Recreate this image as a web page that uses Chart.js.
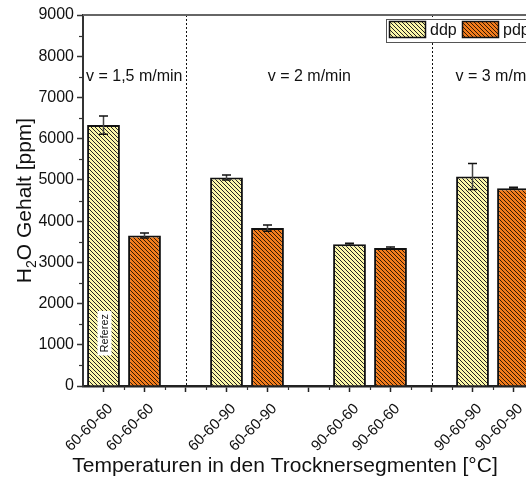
<!DOCTYPE html>
<html>
<head>
<meta charset="utf-8">
<script src="https://cdn.jsdelivr.net/npm/chart.js@4/dist/chart.umd.min.js"></script>
<style>
  html, body { margin: 0; padding: 0; background: #fff; overflow: hidden; width: 526px; height: 477px; }
  #wrap { position: relative; width: 545px; height: 477px; }
</style>
</head>
<body>
<div id="wrap"><canvas id="chart" width="545" height="477"></canvas></div>
<script>
// Drying temperature profiles per segment (empty slots separate the belt speeds)
const categories = ['60-60-60', '60-60-60', '', '60-60-90', '60-60-90', '', '90-60-60', '90-60-60', '', '90-60-90', '90-60-90'];
// Water content [ppm] and standard deviation, ddp series
const ddpValues = [6330, null, null, 5060, null, null, 3440, null, null, 5080, null];
const ddpErrors = [220, null, null, 60, null, null, 25, null, null, 315, null];
// Water content [ppm] and standard deviation, pdp series
const pdpValues = [null, 3650, null, null, 3830, null, null, 3350, null, null, 4800];
const pdpErrors = [null, 60, null, null, 75, null, null, 25, null, null, 20];
// Belt speeds and the category slots where the speed changes
const speedLabels = ['v = 1,5 m/min', 'v = 2 m/min', 'v = 3 m/min'];
const speedBreaks = [2, 8];
const yTicks = [0, 1000, 2000, 3000, 4000, 5000, 6000, 7000, 8000, 9000];
const seriesNames = ['ddp', 'pdp'];
const referenceNote = 'Referez';
const xTitle = 'Temperaturen in den Trocknersegmenten [°C]';

const FONT = '"Liberation Sans", Arial, sans-serif';

function hatch(bg, fg, lw) {
  const c = document.createElement('canvas');
  c.width = 4; c.height = 4;
  const x = c.getContext('2d');
  x.fillStyle = bg; x.fillRect(0, 0, 4, 4);
  x.strokeStyle = fg; x.lineWidth = lw;
  for (const o of [-4, 0, 4]) {
    x.beginPath(); x.moveTo(o, 0); x.lineTo(o + 4, 4); x.stroke();
  }
  return x.createPattern(c, 'repeat');
}
const ddpFill = hatch('#fbf6a8', '#222', 1.0);
const pdpFill = hatch('#f27c1c', '#2a1400', 0.95);

const decorations = {
  id: 'decorations',
  beforeDatasetsDraw(chart) {
    const { ctx, chartArea: a, scales: { x } } = chart;
    ctx.save();
    // speed separators
    ctx.strokeStyle = '#111';
    ctx.lineWidth = 1;
    ctx.setLineDash([2, 2]);
    speedBreaks.forEach(b => {
      const px = Math.round(x.getPixelForValue(b)) + 0.5;
      ctx.beginPath(); ctx.moveTo(px, a.top); ctx.lineTo(px, a.bottom); ctx.stroke();
    });
    ctx.setLineDash([]);
    // speed labels centred in each region
    ctx.fillStyle = '#111';
    ctx.font = '16px ' + FONT;
    ctx.textAlign = 'center';
    ctx.textBaseline = 'middle';
    const anchors = [0.75, 5.02, 9.6];
    speedLabels.forEach((t, i) => {
      ctx.fillText(t, x.getPixelForValue(anchors[i]), 77);
    });
    ctx.restore();
  },
  afterDatasetsDraw(chart) {
    const { ctx, scales: { x, y } } = chart;
    ctx.save();
    // error bars
    [[ddpValues, ddpErrors], [pdpValues, pdpErrors]].forEach(([vals, errs]) => {
      vals.forEach((v, i) => {
        if (v == null || errs[i] == null) return;
        const px = x.getPixelForValue(i);
        const yt = y.getPixelForValue(v + errs[i]);
        const yb = y.getPixelForValue(v - errs[i]);
        ctx.strokeStyle = '#444';
        ctx.lineWidth = 1.5;
        ctx.beginPath(); ctx.moveTo(px, yt); ctx.lineTo(px, yb); ctx.stroke();
        ctx.strokeStyle = '#111';
        ctx.beginPath();
        ctx.moveTo(px - 4.5, yt); ctx.lineTo(px + 4.5, yt);
        ctx.moveTo(px - 4.5, yb); ctx.lineTo(px + 4.5, yb);
        ctx.stroke();
      });
    });
    // reference note inside the first bar
    const rx = x.getPixelForValue(0) + 1;
    const ry = y.getPixelForValue(1280);
    ctx.translate(rx, ry);
    ctx.rotate(-Math.PI / 2);
    ctx.font = '11px ' + FONT;
    const w = ctx.measureText(referenceNote).width;
    ctx.fillStyle = '#fff';
    ctx.fillRect(-w / 2 - 3, -7, w + 6, 14);
    ctx.fillStyle = '#111';
    ctx.textAlign = 'center';
    ctx.textBaseline = 'middle';
    ctx.fillText(referenceNote, 0, 0.5);
    ctx.restore();
  },
  afterDraw(chart) {
    const { ctx, chartArea: a, scales: { x, y } } = chart;
    ctx.save();
    // frame top and right
    ctx.strokeStyle = '#666';
    ctx.lineWidth = 2;
    ctx.beginPath();
    ctx.moveTo(a.left, a.top); ctx.lineTo(a.right, a.top); ctx.lineTo(a.right, a.bottom);
    ctx.stroke();
    // minor ticks on y
    ctx.strokeStyle = '#333';
    ctx.lineWidth = 1.2;
    for (let i = 0; i < yTicks.length - 1; i++) {
      const py = Math.round(y.getPixelForValue((yTicks[i] + yTicks[i + 1]) / 2)) + 0.5;
      ctx.beginPath(); ctx.moveTo(a.left - 4, py); ctx.lineTo(a.left, py); ctx.stroke();
    }
    // minor ticks on x
    for (let i = 0; i < categories.length; i++) {
      const px = Math.round(x.getPixelForValue(i + 0.5)) + 0.5;
      ctx.beginPath(); ctx.moveTo(px, a.bottom); ctx.lineTo(px, a.bottom + 4); ctx.stroke();
    }
    // legend
    const lx = 386, ly = 19;
    ctx.fillStyle = '#fff';
    ctx.fillRect(lx, ly, 150, 23);
    ctx.strokeStyle = '#555';
    ctx.lineWidth = 1;
    ctx.strokeRect(lx + 0.5, ly + 0.5, 150, 23);
    ctx.font = '16px ' + FONT;
    ctx.textBaseline = 'middle';
    ctx.textAlign = 'left';
    [[ddpFill, 388], [pdpFill, 461]].forEach(([fill, sx], k) => {
      ctx.fillStyle = fill;
      ctx.fillRect(sx + 2, ly + 3, 35, 15);
      ctx.strokeStyle = '#111';
      ctx.lineWidth = 1.5;
      ctx.strokeRect(sx + 1.5, ly + 2.5, 36, 16);
      ctx.fillStyle = '#111';
      ctx.fillText(seriesNames[k], sx + 42, ly + 11.5);
    });
    // x axis title
    ctx.font = '21px ' + FONT;
    ctx.textAlign = 'center';
    ctx.fillText(xTitle, 285, 466);
    // y axis title with subscript
    ctx.translate(24, (a.top + a.bottom) / 2);
    ctx.rotate(-Math.PI / 2);
    ctx.fillStyle = '#111';
    ctx.textAlign = 'left';
    ctx.textBaseline = 'alphabetic';
    const big = '21px ' + FONT, small = '14px ' + FONT;
    ctx.font = big; const w1 = ctx.measureText('H').width;
    ctx.font = small; const w2 = ctx.measureText('2').width;
    ctx.font = big; const w3 = ctx.measureText('O Gehalt [ppm]').width;
    let sx = -(w1 + w2 + w3) / 2;
    ctx.font = big; ctx.fillText('H', sx, 7); sx += w1;
    ctx.font = small; ctx.fillText('2', sx, 12); sx += w2;
    ctx.font = big; ctx.fillText('O Gehalt [ppm]', sx, 7);
    ctx.restore();
  }
};

new Chart(document.getElementById('chart'), {
  type: 'bar',
  data: {
    labels: categories,
    datasets: [
      { label: seriesNames[0], data: ddpValues, backgroundColor: ddpFill, borderColor: '#111', borderWidth: 2 },
      { label: seriesNames[1], data: pdpValues, backgroundColor: pdpFill, borderColor: '#111', borderWidth: 2 }
    ]
  },
  options: {
    responsive: false,
    animation: false,
    grouped: false,
    categoryPercentage: 1,
    barPercentage: 0.8,
    layout: { padding: { top: 15, right: 11, left: 0, bottom: 0 } },
    plugins: { legend: { display: false }, tooltip: { enabled: false } },
    scales: {
      x: {
        offset: true,
        border: { color: '#222', width: 2.5 },
        grid: { drawOnChartArea: false, offset: false, tickLength: 6, tickColor: '#222', tickWidth: 1.5 },
        ticks: { autoSkip: false, minRotation: 45, maxRotation: 45, padding: 8, labelOffset: 7, color: '#111', font: { size: 15, family: FONT } },
        afterFit: s => { s.height = 91; }
      },
      y: {
        min: 0, max: 9000,
        border: { color: '#333', width: 2 },
        grid: { drawOnChartArea: false, tickLength: 6, tickColor: '#333', tickWidth: 1.5 },
        ticks: { stepSize: 1000, padding: 3, color: '#111', font: { size: 16, family: FONT }, callback: v => String(v) },
        afterBuildTicks: s => { s.ticks = yTicks.map(v => ({ value: v })); },
        afterFit: s => { s.width = 83; }
      }
    }
  },
  plugins: [decorations]
});
</script>
</body>
</html>
